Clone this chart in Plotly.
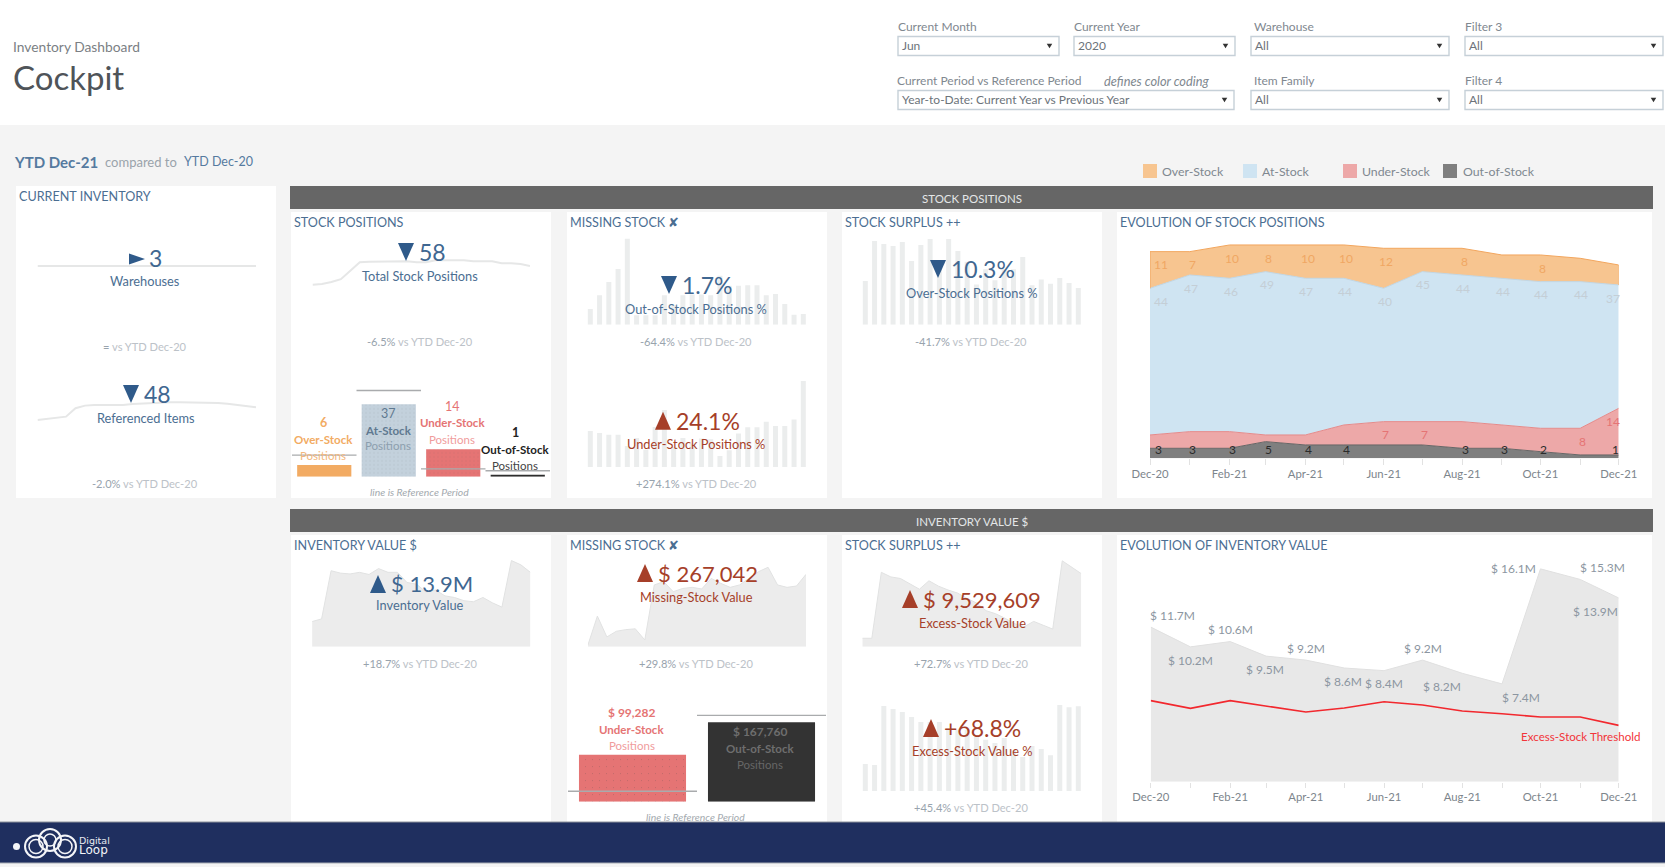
import numpy as np
import plotly.graph_objects as go

W, H = 1665, 867
FONT = "Lato"

# ---------- data ----------
trend_months = ["2020-12-01", "2021-01-01", "2021-02-01", "2021-03-01", "2021-04-01", "2021-05-01", "2021-06-01",
                "2021-07-01", "2021-08-01", "2021-09-01", "2021-10-01", "2021-11-01", "2021-12-01"]
trend_ticktext = ["Dec-20", "", "Feb-21", "", "Apr-21", "", "Jun-21", "", "Aug-21", "", "Oct-21", "", "Dec-21"]
spark_months = ["Jan-20", "Feb-20", "Mar-20", "Apr-20", "May-20", "Jun-20", "Jul-20", "Aug-20", "Sep-20", "Oct-20", "Nov-20", "Dec-20",
                "Jan-21", "Feb-21", "Mar-21", "Apr-21", "May-21", "Jun-21", "Jul-21", "Aug-21", "Sep-21", "Oct-21", "Nov-21", "Dec-21"]

out_stock = [3, 3, 3, 5, 4, 4, 4, 4, 3, 3, 2, 1, 1]
under_stock = [4, 5, 5, 2, 3, 6, 7, 7, 8, 7, 7, 8, 14]
at_stock = [44, 47, 46, 49, 47, 44, 40, 45, 44, 44, 44, 44, 37]
over_stock = [11, 7, 10, 8, 10, 10, 12, 7, 8, 7, 8, 7, 6]
over_labels = [11, 7, 10, 8, 10, 10, 12, None, 8, None, 8, None, None]
under_labels = [None, None, None, None, None, None, 7, 7, None, None, None, 8, 14]
out_labels = [3, 3, 3, 5, 4, 4, None, None, 3, 3, 2, None, 1]

inventory_value_m = [11.7, 10.2, 10.6, 9.5, 9.2, 8.6, 8.4, 9.2, 8.2, 7.4, 16.1, 15.3, 13.9]
threshold_m = [6.13, 5.55, 6.13, 5.70, 5.27, 5.57, 6.05, 5.80, 5.35, 5.14, 4.89, 4.89, 4.26]

warehouses_hist = [3] * 24
items_hist = [37.4, 38.3, 39.1, 40.2, 47.2, 49.4, 49.9, 49.9, 49.9, 49.9, 50.8, 51.3,
              51.6, 52.2, 52.2, 52.2, 52.2, 52.2, 52.2, 51.6, 51.0, 50.2, 49.1, 48.0]
total_hist = [38, 39, 41, 44, 53, 62, 62.6, 62.6, 63, 63, 63,
              62, 62, 64, 64, 64, 64, 63, 63, 63, 61, 61, 60, 58]
out_pct = [2.5, 4.7, 6.8, 8.9, 13.7, 1.5, 1.5, 1.5, 4.7, 3.1, 4.7,
           4.8, 4.8, 4.7, 7.8, 6.2, 6.2, 6.3, 6.3, 4.7, 4.9, 3.3, 1.6, 1.7]
under_pct = [10.1, 9.5, 9.0, 9.0, 5.9, 8.1, 4.8, 11.2, 16.0, 5.6, 8.1,
             6.5, 8.0, 7.8, 3.1, 4.7, 9.4, 11.1, 11.1, 12.7, 11.5, 11.5, 13.3, 24.1]
over_pct = [12.3, 23.5, 22.7, 22.1, 23.2, 17.9, 22.4, 24.1, 17.5, 24.1, 20.7,
            17.7, 11.3, 15.6, 12.5, 15.6, 15.6, 19.0, 11.1, 12.7, 11.5, 13.1, 11.7, 10.3]
excess_pct = [21.9, 21.1, 68.9, 66.5, 64, 60, 56, 56, 56, 49.7, 49.7, 49.7,
              44, 41.6, 39, 43, 33, 27.6, 36.5, 34, 29, 69.7, 68, 68.8]
inv_hist_m = [4.7, 5.2, 14.2, 13.75, 13.6, 13.9, 13.5, 14.6, 13.9, 13.9, 12.0,
              11.7, 10.2, 10.6, 9.5, 9.2, 8.6, 8.4, 9.2, 8.2, 7.4, 16.1, 15.3, 13.9]
missing_hist_k = [6, 113, 36, 57, 63, 66, 25, 228, 240, 203, 215, 219,
                  213, 252, 234, 219, 228, 252, 277, 293, 228, 219, 224, 267]
excess_hist_m = [1.1, 1.1, 9.7, 9.1, 8.9, 8.2, 7.5, 8.6, 7.9, 7.4, 7.0, 6.3,
                 5.7, 4.7, 4.3, 3.7, 3.0, 2.6, 3.3, 2.8, 2.3, 11.2, 10.4, 9.53]

position_cats = ["Over-Stock", "At-Stock", "Under-Stock", "Out-of-Stock"]
position_now = [6, 37, 14, 1]
position_ref = [11, 44, 4, 3]
value_cats = ["Under-Stock", "Out-of-Stock"]
value_now = [99282, 167760]
value_ref = [22000, 182600]

# ---------- palette ----------
BG = "#f4f4f4"
BLUE = "#4b6e92"
KPI_BLUE = "#3f6791"
TRI_BLUE = "#2f5a8a"
RED = "#a63f29"
GREY_TXT = "#b3bac1"
PCT_TXT = "#98a3ad"
SPARK = "#ebeded"
ORANGE = "#f2ab63"
SALMON = "#e57474"

shapes, notes, traces, layout_axes = [], [], [], {}


def px(x): return x / W
def py(y): return 1 - y / H


def rect(x0, y0, x1, y1, fill, line=None, lw=0, layer="below"):
    shapes.append(dict(type="rect", xref="paper", yref="paper", x0=px(x0), x1=px(x1), y0=py(y0), y1=py(y1),
                       fillcolor=fill, line=dict(color=line or fill, width=lw), layer=layer))


def tri(cx, cy, w, h, kind, color):
    if kind == "down":
        pts = [(cx - w / 2, cy - h / 2), (cx + w / 2, cy - h / 2), (cx, cy + h / 2)]
    elif kind == "up":
        pts = [(cx - w / 2, cy + h / 2), (cx + w / 2, cy + h / 2), (cx, cy - h / 2)]
    else:
        pts = [(cx - w / 2, cy - h / 2), (cx - w / 2, cy + h / 2), (cx + w / 2, cy)]
    d = "M " + " L ".join(f"{px(a):.5f},{py(b):.5f}" for a, b in pts) + " Z"
    shapes.append(dict(type="path", xref="paper", yref="paper", path=d, fillcolor=color,
                       line=dict(width=0), layer="above"))


def txt(x, y, s, size=12, color=BLUE, anchor="center", font=FONT):
    notes.append(dict(xref="paper", yref="paper", x=px(x), y=py(y), text=s, showarrow=False, xanchor=anchor,
                      yanchor="middle", font=dict(size=size, color=color, family=font), borderpad=0, borderwidth=0))


def axes(i, x0, x1, ytop, ybot, yrange, xrange=None, xcfg=None):
    xa = dict(domain=[px(x0), px(x1)], anchor=f"y{i}", visible=False, fixedrange=True)
    if xrange is not None:
        xa["range"] = xrange
    if xcfg:
        xa.update(xcfg)
    layout_axes[f"xaxis{i}"] = xa
    layout_axes[f"yaxis{i}"] = dict(domain=[py(ybot), py(ytop)], anchor=f"x{i}", visible=False, range=yrange, fixedrange=True)
    return f"x{i}", f"y{i}"


def sparkbar(i, x_first, x_last, ybot, px_per_unit, ymax, vals):
    step = (x_last - x_first) / 23
    xa, ya = axes(i, x_first - step / 2, x_last + step / 2, ybot - ymax * px_per_unit, ybot, [0, ymax], [-0.5, 23.5],
                  dict(type="category", categoryorder="array", categoryarray=spark_months))
    traces.append(go.Bar(x=spark_months, y=vals, xaxis=xa, yaxis=ya, width=5 / step, marker=dict(color=SPARK, line=dict(width=0))))


def sparkline(i, x0, x1, ybot, px_per_unit, ymin, ymax, vals):
    xa, ya = axes(i, x0, x1, ybot - (ymax - ymin) * px_per_unit, ybot, [ymin, ymax], [0, 23])
    traces.append(go.Scatter(x=list(range(24)), y=vals, xaxis=xa, yaxis=ya, mode="lines",
                             line=dict(color="#e6e7e7", width=2, shape="linear")))


def sparkarea(i, x0, x1, ybot, px_per_unit, ymax, vals):
    xa, ya = axes(i, x0, x1, ybot - ymax * px_per_unit, ybot, [0, ymax], [0, 23])
    traces.append(go.Scatter(x=list(range(24)), y=vals, xaxis=xa, yaxis=ya, mode="lines", fill="tozeroy",
                             fillcolor="#ececec", line=dict(color="#e1e2e2", width=1)))


# ---------- page frame ----------
rect(0, 0, W, 125, "#ffffff")
for (a, b, c, d) in [(16, 186, 276, 498), (291, 212, 551, 498), (567, 212, 827, 498), (842, 212, 1102, 498), (1117, 212, 1652, 498),
                     (291, 535, 551, 822), (567, 535, 827, 822), (842, 535, 1102, 822), (1117, 535, 1652, 822)]:
    rect(a, b, c, d, "#ffffff")
rect(290, 186, 1653, 209, "#666666")
rect(290, 509, 1653, 532, "#666666")
txt(972, 198.5, "STOCK POSITIONS", 11.5, "#e4e6e8")
txt(972, 521.5, "INVENTORY VALUE $", 11.5, "#e4e6e8")

# footer
rect(0, 822, W, 863, "#1f2f5f", layer="above")
shapes.append(dict(type="line", xref="paper", yref="paper", x0=0, x1=1, y0=py(822), y1=py(822), line=dict(color="#8d929c", width=1), layer="above"))
shapes.append(dict(type="line", xref="paper", yref="paper", x0=0, x1=1, y0=py(863), y1=py(863), line=dict(color="#a8adb5", width=1), layer="above"))
for (cx, cy, r, w_) in [(36, 846.5, 11, 2), (50, 840, 11, 2), (65, 846.5, 11, 2), (36, 846.5, 7, 1.5), (50, 840, 6, 1.5), (65, 846.5, 7, 1.5)]:
    shapes.append(dict(type="circle", xref="paper", yref="paper", x0=px(cx - r), x1=px(cx + r), y0=py(cy + r), y1=py(cy - r),
                       line=dict(color="#f4f5f8", width=w_), layer="above"))
shapes.append(dict(type="circle", xref="paper", yref="paper", x0=px(13), x1=px(20), y0=py(850), y1=py(843), fillcolor="#f4f5f8",
                   line=dict(width=0), layer="above"))
txt(79, 840.5, "Digital", 9.5, "#e8eaf0", "left", "DejaVu Sans")
txt(79, 850, "Loop", 12, "#f4f5f8", "left", "DejaVu Sans")

# ---------- header ----------
txt(13, 46.5, "Inventory Dashboard", 13.8, "#7b7f84", "left")
txt(13, 77.5, "Cockpit", 33, "#4f5459", "left")


def combo(x0, x1, y0, label, value, label_x=None):
    rect(x0, y0 + 0.5, x1, y0 + 19.5, "#ffffff", "#c6d0d8", 1.4)
    txt(label_x if label_x is not None else x0, y0 - 9.5, label, 12, "#7f8890", "left")
    txt(x0 + 4, y0 + 9.5, value, 12, "#6c737a", "left")
    tri(x1 - 9.5, y0 + 10, 5.5, 4.5, "down", "#333333")


combo(898, 1059, 36, "Current Month", "Jun")
combo(1074, 1235, 36, "Current Year", "2020")
combo(1251, 1449, 36, "Warehouse", "All", 1254)
combo(1465, 1663, 36, "Filter 3", "All")
combo(898, 1234, 90, "Current Period vs Reference Period", "Year-to-Date: Current Year vs Previous Year", 897)
combo(1251, 1449, 90, "Item Family", "All", 1254)
combo(1465, 1663, 90, "Filter 4", "All")
txt(1104, 80.5, "<i>defines color coding</i>", 12.8, "#80888f", "left")

txt(14, 162, "<b>YTD Dec-21</b>", 15, "#557a9f", "left")
txt(105, 162, "compared to", 13, "#9aa3ab", "left")
txt(184, 162, "YTD Dec-20", 12.5, "#557a9f", "left")

for sx, lx, name, col in [(1143, 1162, "Over-Stock", "#f7c590"), (1243, 1262, "At-Stock", "#cfe4f2"),
                          (1343, 1362, "Under-Stock", "#eda8a8"), (1443, 1463, "Out-of-Stock", "#7f7f7f")]:
    rect(sx, 164, sx + 14, 178, col)
    txt(lx, 171.5, name, 12.3, "#7f8890", "left")

# panel titles
for x, y, s in [(18.5, 196.5, "CURRENT INVENTORY"), (293.5, 222.7, "STOCK POSITIONS"), (570, 222.7, "MISSING STOCK ✘"),
                (845, 222.7, "STOCK SURPLUS ++"), (1120, 222.7, "EVOLUTION OF STOCK POSITIONS"),
                (294, 545, "INVENTORY VALUE $"), (570, 545, "MISSING STOCK ✘"), (845, 545, "STOCK SURPLUS ++"),
                (1120, 545, "EVOLUTION OF INVENTORY VALUE")]:
    txt(x, y, s, 12.6, BLUE, "left")


def vs(x, y, pct):
    head = f'<span style="color:{PCT_TXT}">{pct}</span> ' if pct else ""
    txt(x, y - 1, head + '<span style="color:#bcc2c8">vs YTD Dec-20</span>', 11.1, GREY_TXT)


def kpi(tri_xy, kind, value_xy, value, label_xy, label, color, size=23):
    tri(tri_xy[0], tri_xy[1], 16, 18 if kind != "right" else 11, kind, TRI_BLUE if color != RED else RED)
    txt(value_xy[0], value_xy[1], value, size, color)
    txt(label_xy[0], label_xy[1], label, 12.8, color if color == RED else BLUE)


# ---------- sparklines & sparkbars (drawn first, KPIs sit above) ----------
sparkline(1, 37.5, 256, 276, 3.33, 0, 6, warehouses_hist)
sparkline(2, 37.5, 256, 428.9, 1.2, 30, 60, items_hist)
sparkline(3, 312.5, 530, 292.4, 0.943, 30, 70, total_hist)
sparkbar(4, 590.3, 803.3, 324.7, 6.27, 14, out_pct)
sparkbar(5, 590.3, 803.3, 467, 3.57, 25, under_pct)
sparkbar(6, 865.3, 1078.3, 324.7, 3.56, 25, over_pct)
sparkarea(7, 312.1, 530.4, 646.7, 5.35, 17, inv_hist_m)
sparkarea(8, 587.9, 806, 646.7, 0.271, 330, missing_hist_k)
sparkarea(9, 862.3, 1081.3, 646.7, 7.667, 12, excess_hist_m)
sparkbar(10, 865.3, 1078.3, 791, 1.233, 72, excess_pct)

# KPIs
kpi((137, 259), "right", (155.7, 258), "3", (145.4, 281), "Warehouses", KPI_BLUE)
vs(145, 347, "=")
kpi((131, 394), "down", (157, 394), "48", (145.7, 418), "Referenced Items", KPI_BLUE)
vs(145, 484, "-2.0%")
kpi((406, 252), "down", (432, 252), "58", (420, 276), "Total Stock Positions", KPI_BLUE)
vs(420, 342, "-6.5%")
kpi((669, 285), "down", (707.5, 285), "1.7%", (696.4, 308.7), "Out-of-Stock Positions %", KPI_BLUE)
vs(696, 342, "-64.4%")
kpi((663, 420.7), "up", (708, 420.7), "24.1%", (696, 443.7), "Under-Stock Positions %", RED)
vs(696, 484, "+274.1%")
kpi((938, 269), "down", (983, 269), "10.3%", (971.4, 292.7), "Over-Stock Positions %", KPI_BLUE)
vs(971, 342, "-41.7%")
kpi((378, 584), "up", (432, 583), "$ 13.9M", (420, 605), "Inventory Value", KPI_BLUE, 22)
vs(420, 664, "+18.7%")
kpi((645, 573), "up", (708, 573), "$ 267,042", (696, 596.7), "Missing-Stock Value", RED, 22)
vs(696, 664, "+29.8%")
kpi((910, 599), "up", (982, 599), "$ 9,529,609", (972, 622.7), "Excess-Stock Value", RED, 22)
vs(971, 664, "+72.7%")
kpi((931, 728), "up", (982, 728), "+68.8%", (972, 750.7), "Excess-Stock Value %", RED)
vs(971, 808, "+45.4%")

# ---------- stock position bars vs reference ----------
xa, ya = axes(11, 292, 550, 476.7 - 50 * 1.96, 476.7, [0, 50], [-0.5, 3.5], dict(type="linear"))
traces.append(go.Bar(x=[0, 1, 2, 3], y=position_now, xaxis=xa, yaxis=ya, width=0.84, customdata=position_cats,
                     marker=dict(color=[ORANGE, "#c3d1dc", SALMON, "#2d2d2d"], line=dict(width=0),
                                 pattern=dict(shape=["", ".", ".", ""], fgcolor="#ffffff", fgopacity=0.35, size=4, solidity=0.03))))
ref_x, ref_y = [], []
for k in range(4):
    ref_x += [k - 0.5, k + 0.5, None]
    ref_y += [position_ref[k], position_ref[k], None]
traces.append(go.Scatter(x=ref_x, y=ref_y, xaxis=xa, yaxis=ya, mode="lines", line=dict(color="#a9abad", width=1.4)))

for cx, ys, cols, val, name, num_fmt in [
    (323, (422.7, 439, 455), (ORANGE, ORANGE, "#f3b77c"), position_now[0], position_cats[0], "<b>{}</b>"),
    (388, (413.7, 430, 446), ("#5f7990", "#5f7990", "#8d9fae"), position_now[1], position_cats[1], "{}"),
    (452.5, (406.7, 423, 439), (SALMON, SALMON, "#f09c9c"), position_now[2], position_cats[2], "{}"),
    (515, (432.7, 449, 465), ("#222222", "#222222", "#444444"), position_now[3], position_cats[3], "<b>{}</b>"),
]:
    txt(cx, ys[0], num_fmt.format(val), 12.5, cols[0])
    txt(cx, ys[1], f"<b>{name}</b>", 11.5, cols[1])
    txt(cx, ys[2], "Positions", 11.5, cols[2])
txt(419, 491.7, "<i>line is Reference Period</i>", 10.4, "#a3a9ae")

# ---------- missing value bars vs reference ----------
xa, ya = axes(12, 568, 826, 801.7 - 200000 * 0.000473, 801.7, [0, 200000], [-0.5, 1.5], dict(type="linear"))
traces.append(go.Bar(x=[0, 1], y=value_now, xaxis=xa, yaxis=ya, width=0.83, customdata=value_cats,
                     marker=dict(color=[SALMON, "#333333"], line=dict(width=0),
                                 pattern=dict(shape=[".", ""], fgcolor="#ffffff", fgopacity=0.4, size=7, solidity=0.015))))
ref_x, ref_y = [], []
for k in range(2):
    ref_x += [k - 0.5, k + 0.5, None]
    ref_y += [value_ref[k], value_ref[k], None]
traces.append(go.Scatter(x=ref_x, y=ref_y, xaxis=xa, yaxis=ya, mode="lines", line=dict(color="#a9abad", width=1.4)))
txt(631.8, 712.7, f"<b>$ {value_now[0]:,}</b>", 12, SALMON)
txt(631.8, 729, f"<b>{value_cats[0]}</b>", 11.5, SALMON)
txt(631.8, 745, "Positions", 11.5, "#f09c9c")
txt(760, 731.7, f"<b>$ {value_now[1]:,}</b>", 12, "#6e6e6e")
txt(760, 748, f"<b>{value_cats[1]}</b>", 11.5, "#6e6e6e")
txt(760, 764, "Positions", 11.5, "#666666")
txt(695, 816.7, "<i>line is Reference Period</i>", 10.4, "#a3a9ae")

# ---------- evolution of positions ----------
tick_cfg = dict(visible=True, type="date", showgrid=False, zeroline=False, showline=False, ticks="outside", ticklen=5.5,
                tickcolor="#e2e2e2", tickwidth=1, tickmode="array", tickvals=trend_months, ticktext=trend_ticktext,
                tickfont=dict(size=11.3, color="#7d858c", family=FONT))
xa, ya = axes(13, 1150, 1618.7, 458.3 - 70 * 10 / 3, 458.3, [0, 70], ["2020-12-01", "2021-12-01"], tick_cfg)
for vals, name, fc, lc in [(out_stock, "Out-of-Stock", "#7f7f7f", "#666666"), (under_stock, "Under-Stock", "#eda8a8", "#e58a8a"),
                           (at_stock, "At-Stock", "#cfe4f2", "#c0d6e5"), (over_stock, "Over-Stock", "#f7c590", "#f2a65e")]:
    traces.append(go.Scatter(x=trend_months, y=vals, name=name, xaxis=xa, yaxis=ya, mode="lines", stackgroup="pos",
                             fillcolor=fc, line=dict(color=lc, width=1)))

tops_out = np.array(out_stock)
tops_under = tops_out + np.array(under_stock)
tops_at = tops_under + np.array(at_stock)
tops_over = tops_at + np.array(over_stock)

# orange side edges of the top band, from the stacked values
traces.append(go.Scatter(x=[trend_months[0], trend_months[0], None, trend_months[-1], trend_months[-1]],
                         y=[float(tops_at[0]), float(tops_over[0]), None, float(tops_at[-1]), float(tops_over[-1])],
                         xaxis=xa, yaxis=ya, mode="lines", line=dict(color="#f2a65e", width=1)))


def evo_label(i, y, s, color, dx=0, dy=13.3):
    notes.append(dict(xref=xa, yref=ya, x=trend_months[i], y=float(y), text=str(s), showarrow=False, xshift=dx, yshift=-dy,
                      xanchor="center", yanchor="middle", font=dict(size=12, color=color, family=FONT)))


for i in range(13):
    if over_labels[i] is not None:
        evo_label(i, tops_over[i], over_labels[i], "#f0a763", 11 if i == 0 else 2.5)
    evo_label(i, tops_at[i], at_stock[i], "#c4ced6", 11 if i == 0 else (-6 if i == 12 else 1))
    if under_labels[i] is not None:
        evo_label(i, tops_under[i], under_labels[i], SALMON, -6 if i == 12 else 2)
    if out_labels[i] is not None:
        evo_label(i, 0, out_labels[i], "#2b2b2b", -3 if i == 12 else (8 if i == 0 else 3), -8.3)

# ---------- evolution of inventory value ----------
tick_cfg2 = dict(tick_cfg, ticklen=5)
xa, ya = axes(14, 1150.7, 1618.7, 781.7 - 17 * 13.22, 781.7, [0, 17], ["2020-12-01", "2021-12-01"], tick_cfg2)
traces.append(go.Scatter(x=trend_months, y=inventory_value_m, xaxis=xa, yaxis=ya, mode="lines", fill="tozeroy",
                         fillcolor="#e8e8e8", line=dict(color="#e0e0e0", width=1)))
traces.append(go.Scatter(x=trend_months, y=threshold_m, xaxis=xa, yaxis=ya, mode="lines", line=dict(color="#f2282e", width=1.6)))
nudge_x = [22, 0, 0, -1, 0, -1, 0, 0, -20, 19, -26.5, 22, -23]
nudge_y = [-11.7, 13.3, -11.7, 13.3, -11.7, 13.3, 13.3, -11.7, 13.3, 13.5, 0, -11.7, 13.5]
for i, v in enumerate(inventory_value_m):
    evo_label(i, v, f"$ {v}M", "#8c96a1", nudge_x[i], nudge_y[i])
txt(1581, 736, "Excess-Stock Threshold", 11.6, "#f2353a")

fig = go.Figure(traces)
fig.update_layout(width=W, height=H, margin=dict(l=0, r=0, t=0, b=0, pad=0, autoexpand=False), paper_bgcolor=BG, plot_bgcolor="rgba(0,0,0,0)",
                  showlegend=False, shapes=shapes, annotations=notes, barmode="overlay", font=dict(family=FONT),
                  hovermode=False, **layout_axes)
fig.write_html("out.html", config=dict(displayModeBar=False),
               post_script="document.body.style.margin='0';document.body.style.overflow='hidden';")
